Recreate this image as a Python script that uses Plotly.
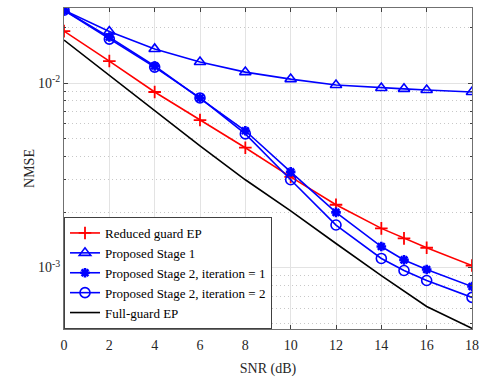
import plotly.graph_objects as go

snr = [0, 2, 4, 6, 8, 10, 12, 14, 15, 16, 18]
snr_full = [0, 2, 4, 6, 8, 10, 12, 14, 16, 18]

reduced_guard_ep = [0.0191, 0.01315, 0.00894, 0.0063, 0.00446, 0.0031, 0.00219, 0.00163, 0.00144, 0.00128, 0.001026]
stage1 = [0.0248, 0.0190, 0.0153, 0.0130, 0.01146, 0.0105, 0.00976, 0.0094, 0.0093, 0.00917, 0.00894]
stage2_iter1 = [0.0248, 0.01774, 0.01236, 0.0083, 0.00551, 0.0033, 0.00199, 0.0013, 0.0011, 0.000976, 0.000789]
stage2_iter2 = [0.0248, 0.0173, 0.0122, 0.0083, 0.0053, 0.00299, 0.0017, 0.00112, 0.000964, 0.000851, 0.000689]
full_guard_ep = [0.0171, 0.01104, 0.00706, 0.00456, 0.00299, 0.00203, 0.00135, 0.000905, 0.000615, 0.000468]

names = ["Reduced guard EP", "Proposed Stage 1", "Proposed Stage 2, iteration = 1",
         "Proposed Stage 2, iteration = 2", "Full-guard EP"]

xtickvals = [0, 2, 4, 6, 8, 10, 12, 14, 16, 18]
ytickvals = [0.001, 0.01]
yticktext = ["10<sup>-3</sup>", "10<sup>-2</sup>"]
yminor = [m * 1e-4 for m in range(5, 10)] + [m * 1e-3 for m in range(2, 10)] + [m * 1e-2 for m in range(2, 3)]

FONT = "Liberation Serif"

fig = go.Figure()
fig.add_trace(go.Scatter(x=snr, y=reduced_guard_ep, name=names[0], mode="lines+markers",
                         line=dict(color="#ff0000", width=1.6),
                         marker=dict(symbol="cross-thin-open", size=9, line=dict(color="#ff0000", width=1.8))))
fig.add_trace(go.Scatter(x=snr, y=stage1, name=names[1], mode="lines+markers",
                         line=dict(color="#0000ff", width=1.6),
                         marker=dict(symbol="triangle-up-open", size=10, color="#0000ff", line=dict(width=1.6))))
fig.add_trace(go.Scatter(x=snr, y=stage2_iter1, name=names[2], mode="lines+markers",
                         line=dict(color="#0000ff", width=1.6),
                         marker=dict(symbol="asterisk-open", size=8, line=dict(color="#0000ff", width=2.6))))
fig.add_trace(go.Scatter(x=snr, y=stage2_iter2, name=names[3], mode="lines+markers",
                         line=dict(color="#0000ff", width=1.6),
                         marker=dict(symbol="circle-open", size=10, color="#0000ff", line=dict(width=1.6))))
fig.add_trace(go.Scatter(x=snr_full, y=full_guard_ep, name=names[4], mode="lines",
                         line=dict(color="#000000", width=1.6)))

axis_common = dict(showline=True, linecolor="#707070", linewidth=1, mirror="ticks",
                   ticks="inside", tickcolor="#404040", ticklen=4, automargin=False,
                   tickfont=dict(family=FONT, size=14, color="#262626"),
                   showgrid=True, gridcolor="#e3e3e3", gridwidth=1, zeroline=False)

fig.update_layout(
    width=484, height=377,
    margin=dict(l=64, r=12, t=8, b=48),
    paper_bgcolor="white", plot_bgcolor="white",
    font=dict(family=FONT, size=14, color="#262626"),
    xaxis=dict(range=[0, 18], tickvals=xtickvals, ticklabelstandoff=3,
               title=dict(text="SNR (dB)", font=dict(family=FONT, size=14), standoff=12),
               **axis_common),
    yaxis=dict(type="log", range=[-3.333, -1.5935], tickvals=ytickvals, ticktext=yticktext,
               title=dict(text="NMSE", font=dict(family=FONT, size=14), standoff=0),
               minor=dict(tickvals=yminor, showgrid=True, gridcolor="#c8c8c8", griddash="1px,3px",
                          ticks="inside", ticklen=2, tickcolor="#404040"),
               **axis_common),
    legend=dict(x=0, y=0, xanchor="left", yanchor="bottom", bgcolor="white",
                bordercolor="#404040", borderwidth=1,
                font=dict(family=FONT, size=13, color="#000000"),
                tracegroupgap=0, itemwidth=30),
    showlegend=True,
)

fig.write_html("out.html", config={"displayModeBar": False},
               post_script="document.body.style.margin='0';document.body.style.padding='0';")
